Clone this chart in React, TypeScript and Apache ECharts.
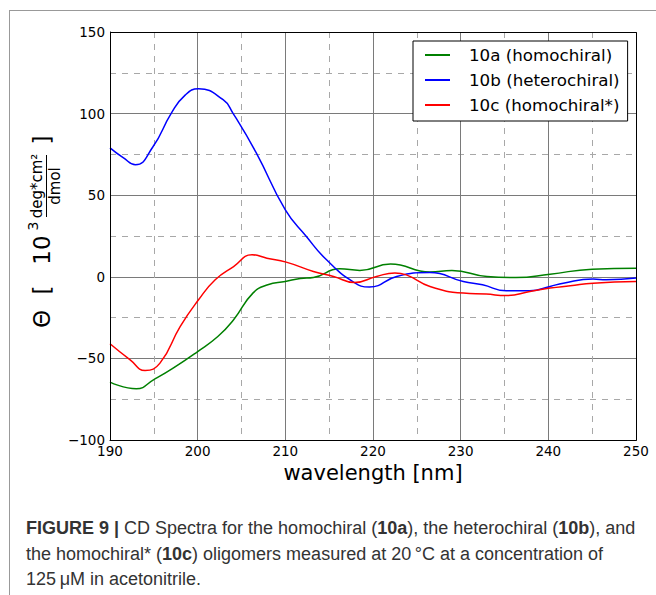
import React, { useEffect, useRef } from "react";
import * as echarts from "echarts";

// wavelength (nm) and CD values (10^3 deg*cm^2/dmol)
const wl10a = [190, 193, 195, 197.2, 200, 202.3, 204.1, 206.3, 208, 210, 211.7, 213.2, 216.2, 218.5, 222, 226.5, 229, 233, 236.3, 240.2, 245, 250];
const cd10a = [-64.5, -68.6, -63, -56, -45.8, -36.6, -26.3, -10, -4.9, -2.9, -1, -0.4, 4.9, 3.9, 7.8, 2.9, 3.9, 0.2, -0.4, 1.6, 4.7, 5.3];

const wl10b = [190, 191.5, 192.9, 194.9, 197, 198.6, 200.1, 202.9, 204, 206.7, 210, 212.4, 214.7, 217.7, 219.6, 222.7, 226.5, 230.3, 232.5, 235.2, 237.9, 240.2, 241.7, 245.1, 246.6, 250];
const cd10b = [79, 73, 68.6, 79.7, 100.3, 111.5, 115.2, 108.5, 100.5, 75.8, 41, 24.7, 10.4, -2.9, -6.3, 0.2, 2.6, -2.9, -4.9, -8.6, -8.6, -5.9, -3.9, -1.4, -1.8, -0.8];

const wl10c = [190, 192.3, 194, 195.7, 198, 200.1, 202, 204.1, 206.2, 207.9, 210.1, 213.2, 215.5, 217.9, 220.4, 222.5, 223.8, 226.5, 230.3, 232.9, 235.2, 237.9, 240.2, 242.5, 245.1, 250];
const cd10c = [-41, -50.9, -57.4, -52.9, -30.5, -14.1, -1.8, 6.3, 13.5, 11.4, 9, 3.3, 0.2, -3.5, 0.2, 2.4, 1.2, -5.9, -10, -10.6, -11.5, -9, -6.9, -5.5, -3.9, -2.9];

const seriesNames = ["10a (homochiral)", "10b (heterochiral)", "10c (homochiral*)"];
const seriesColors = ["#008000", "#0000ff", "#ff0000"];

const xTitle = "wavelength [nm]";
const captionLines = [
  "{b|FIGURE 9 |} CD Spectra for the homochiral ({b|10a}), the heterochiral ({b|10b}), and",
  "the homochiral* ({b|10c}) oligomers measured at 20\u2009°C at a concentration of",
  "125\u2009μM in acetonitrile.",
];

const DV = "DejaVu Sans";
const CAP = "Liberation Sans, Arial, sans-serif";

export default function App() {
  const ref = useRef<HTMLDivElement>(null);
  useEffect(() => {
    if (!ref.current) return;
    const chart = echarts.init(ref.current, undefined, { renderer: "svg" });
    const pairs = (xs: number[], ys: number[]) => xs.map((x, i) => [x, ys[i]]);
    const datasets = [pairs(wl10a, cd10a), pairs(wl10b, cd10b), pairs(wl10c, cd10c)];

    const gl = { left: 110, top: 32, right: 20, bottom: 155 };
    const plotW = 656 - gl.left - gl.right;
    const plotH = 595 - gl.top - gl.bottom;
    const minus = (v: number) => String(v).replace("-", "\u2212");

    chart.setOption({
      animation: false,
      backgroundColor: "#fff",
      grid: { ...gl, show: false },
      legend: {
        orient: "vertical",
        left: 413,
        top: 41,
        padding: [4, 8, 6, 12],
        itemGap: 5,
        itemWidth: 25,
        itemHeight: 2,
        icon: "rect",
        borderColor: "#000",
        borderWidth: 1,
        borderRadius: 0,
        backgroundColor: "#fff",
        data: seriesNames,
        textStyle: { fontSize: 16.7, fontFamily: DV, color: "#000", padding: [0, 0, 0, 14], lineHeight: 20 },
        z: 20,
      },
      xAxis: {
        type: "value",
        min: 190,
        max: 250,
        interval: 10,
        name: xTitle,
        nameLocation: "middle",
        nameGap: 20,
        nameTextStyle: { fontSize: 21, fontFamily: DV, color: "#000" },
        axisLine: { show: true, onZero: false, lineStyle: { color: "#000", width: 1 } },
        axisTick: { show: false },
        axisLabel: { fontSize: 13.5, fontFamily: DV, color: "#000", margin: 4, formatter: minus },
        splitLine: { show: true, lineStyle: { color: "#7a7a7a", width: 1 } },
        minorTick: { show: false, splitNumber: 2 },
        minorSplitLine: { show: true, lineStyle: { color: "#a8a8a8", width: 1, type: [6, 6] } },
      },
      yAxis: {
        type: "value",
        min: -100,
        max: 150,
        interval: 50,
        axisLine: { show: true, onZero: false, lineStyle: { color: "#000", width: 1 } },
        axisTick: { show: false },
        axisLabel: { fontSize: 13.5, fontFamily: DV, color: "#000", margin: 5, formatter: minus },
        splitLine: { show: true, lineStyle: { color: "#7a7a7a", width: 1 } },
        minorTick: { show: false, splitNumber: 2 },
        minorSplitLine: { show: true, lineStyle: { color: "#a8a8a8", width: 1, type: [6, 6] } },
      },
      series: seriesNames.map((name, i) => ({
        name,
        type: "line",
        data: datasets[i],
        showSymbol: false,
        symbol: "none",
        smooth: 0.5,
        color: seriesColors[i],
        lineStyle: { color: seriesColors[i], width: 1.5 },
        z: 5,
      })),
      graphic: [
        // figure frame
        { type: "line", shape: { x1: 9.5, y1: 10, x2: 9.5, y2: 595 }, style: { stroke: "#999", lineWidth: 1 }, z: 50 },
        { type: "line", shape: { x1: 9, y1: 10.5, x2: 656, y2: 10.5 }, style: { stroke: "#999", lineWidth: 1 }, z: 50 },
        // plot box
        {
          type: "rect",
          shape: { x: gl.left + 0.5, y: gl.top + 0.5, width: plotW, height: plotH },
          style: { fill: "none", stroke: "#000", lineWidth: 1 },
          z: 10,
          silent: true,
        },
        // y axis label
        {
          type: "group",
          x: 42,
          y: 231,
          rotation: Math.PI / 2,
          children: [
            { type: "text", x: -88, y: 0, style: { text: "Θ", fontSize: 23, fontFamily: DV, fill: "#000", align: "center", verticalAlign: "middle" } },
            { type: "text", x: -59, y: 0, style: { text: "[", fontSize: 23, fontFamily: DV, fill: "#000", align: "center", verticalAlign: "middle" } },
            { type: "text", x: -19, y: 0, style: { text: "10", fontSize: 23, fontFamily: DV, fill: "#000", align: "center", verticalAlign: "middle" } },
            { type: "text", x: 5, y: -9, style: { text: "3", fontSize: 14, fontFamily: DV, fill: "#000", align: "center", verticalAlign: "middle" } },
            { type: "text", x: 45, y: -5, style: { text: "deg*cm²", fontSize: 15, fontFamily: DV, fill: "#000", align: "center", verticalAlign: "middle" } },
            { type: "line", shape: { x1: 14, y1: 4.5, x2: 76, y2: 4.5 }, style: { stroke: "#000", lineWidth: 1 } },
            { type: "text", x: 45, y: 13, style: { text: "dmol", fontSize: 15, fontFamily: DV, fill: "#000", align: "center", verticalAlign: "middle" } },
            { type: "text", x: 91, y: 0, style: { text: "]", fontSize: 23, fontFamily: DV, fill: "#000", align: "center", verticalAlign: "middle" } },
          ],
        },
        // caption
        ...captionLines.map((t, i) => ({
          type: "text",
          x: 26,
          y: 528 + i * 25.5,
          style: {
            text: t,
            fontSize: 18,
            fontFamily: CAP,
            fill: "#333",
            verticalAlign: "middle",
            rich: { b: { fontWeight: "bold", fontSize: 18, fontFamily: CAP, fill: "#333" } },
          },
        })),
      ],
    });
    return () => chart.dispose();
  }, []);
  return <div ref={ref} style={{ position: "fixed", left: 0, top: 0, width: 656, height: 595 }} />;
}
